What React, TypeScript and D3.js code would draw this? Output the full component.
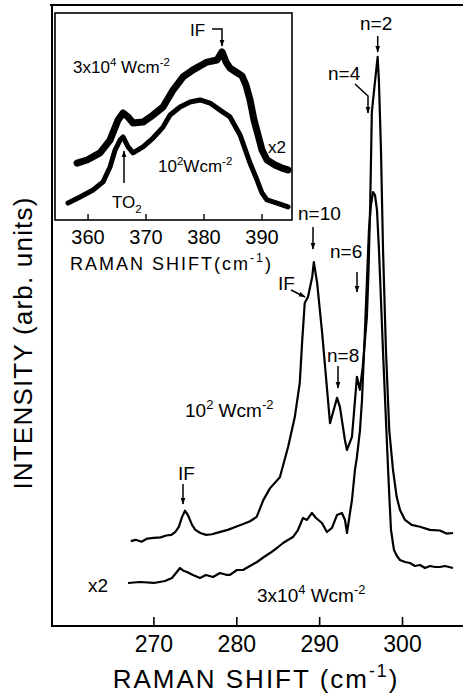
import React from "react";
import * as d3 from "d3";

// ---------- main panel data (Raman shift cm^-1, intensity arb. units) ----------
const lowPowerX = [
  267.2, 267.8, 268.5, 269.2, 270.0, 270.8, 271.5, 272.1, 272.6, 273.0, 273.4, 273.75,
  274.1, 274.6, 275.0, 275.6, 276.3, 277.0, 277.8, 278.9, 279.9, 280.7, 281.6, 282.4,
  283.2, 284.0, 285.2, 286.2, 287.0, 287.6, 287.9, 288.2, 288.6, 289.1, 289.3, 289.7,
  290.3, 290.9, 291.25, 291.6, 292.1, 292.45, 293.05, 293.3, 293.9, 294.5, 294.85, 295.2,
  295.7, 295.9, 296.1, 296.3, 296.7, 297.0, 297.15, 297.4, 297.65, 298.0, 298.4, 298.85,
  299.3, 299.7, 300.3, 301.1, 302.1, 303.3, 304.5, 305.3, 306.1,
];
const lowPowerY = [
  13.7, 13.9, 13.6, 14.1, 14.2, 14.3, 14.6, 14.7, 15.2, 16.0, 17.6, 18.6,
  17.9, 16.3, 15.5, 15.0, 14.7, 14.8, 15.1, 15.5, 16.0, 16.4, 16.9, 17.6,
  20.3, 22.2, 24.0, 28.9, 33.7, 39.2, 46.1, 52.1, 53.1, 56.3, 58.7, 55.3,
  47.3, 38.1, 32.7, 34.4, 36.8, 35.3, 30.0, 28.4, 30.5, 40.2, 38.1, 41.8,
  49.8, 57.4, 68.0, 82.9, 88.1, 91.8, 88.0, 76.8, 60.7, 44.5, 31.6, 25.2,
  20.8, 18.7, 17.1, 16.3, 16.0, 15.5, 15.4, 14.9, 15.0,
];
const highPowerX = [
  266.87, 268.32, 270.0, 271.34, 272.18, 273.15, 273.63, 273.99, 274.71, 275.56, 276.28,
  277.13, 277.97, 278.82, 279.18, 280.02, 280.75, 281.59, 282.44, 283.28, 284.01, 284.85,
  285.58, 286.18, 286.78, 287.38, 287.99, 288.47, 289.07, 289.56, 290.28, 290.88, 291.49,
  292.09, 292.69, 293.06, 293.3, 293.66, 293.9, 294.26, 294.5, 294.87, 295.11, 295.47,
  295.71, 295.95, 296.19, 296.44, 296.68, 296.92, 297.16, 297.4, 297.64, 298.0, 298.37,
  298.61, 298.97, 299.33, 299.69, 300.3, 300.9, 301.5, 302.11, 302.71, 303.31, 303.92,
  304.52, 305.12, 306.09,
];
const highPowerY = [
  6.94, 7.1, 6.94, 7.26, 7.74, 9.35, 8.87, 8.71, 8.23, 7.74, 8.23,
  7.9, 8.55, 8.23, 8.23, 9.03, 9.03, 9.68, 10.32, 11.13, 11.77, 12.58,
  13.39, 13.87, 14.35, 15.48, 17.42, 17.1, 18.23, 17.42, 16.61, 15.16, 15.81,
  17.9, 18.23, 17.1, 15.0, 18.23, 20.32, 25.16, 27.26, 31.61, 36.45, 47.74,
  55.81, 63.87, 67.9, 70.0, 69.5, 67.1, 60.65, 52.58, 44.52, 33.23, 21.94,
  15.48, 12.26, 11.29, 10.65, 10.32, 10.16, 9.68, 9.84, 9.35, 9.68, 9.52,
  9.52, 9.68, 9.35,
];
const mainTicks = [270, 280, 290, 300];

// ---------- inset data ----------
const insetHighX = [
  358.1, 359.83, 362.07, 363.79, 365.17, 366.03, 366.9, 367.76, 369.48, 371.21, 372.93,
  374.66, 376.38, 378.1, 380.52, 382.24, 383.1, 383.8, 384.48, 385.5, 386.55, 387.24,
  387.93, 388.62, 389.31, 390.0, 390.86, 392.24, 393.45, 394.48,
];
const insetHighY = [
  27.5, 29.0, 32.4, 38.6, 48.3, 51.7, 49.8, 46.9, 47.3, 50.7, 54.6,
  62.8, 69.1, 72.5, 76.3, 77.3, 81.2, 76.3, 73.4, 71.5, 69.6, 65.2,
  58.0, 48.3, 41.1, 33.8, 29.0, 26.6, 25.1, 24.2,
];
const insetLowX = [
  356.55, 358.62, 360.86, 362.59, 363.79, 364.66, 365.52, 366.03, 366.9, 367.76, 369.48,
  371.21, 372.93, 374.14, 375.86, 377.59, 379.31, 381.03, 382.76, 384.48, 386.21, 387.93,
  389.14, 390.0, 390.86, 392.59, 394.48,
];
const insetLowY = [
  8.2, 11.1, 14.5, 18.4, 25.6, 33.8, 38.6, 40.1, 35.3, 32.4, 35.3,
  39.6, 44.9, 50.7, 54.6, 57.0, 58.0, 56.5, 53.1, 49.8, 41.1, 27.5,
  19.3, 13.0, 9.7, 8.2, 6.3,
];
const insetTicks = [360, 370, 380, 390];

const FONT = "'Liberation Sans', Arial, sans-serif";

type Part = { t: string; sup?: boolean; sub?: boolean };

function zip(xs: number[], ys: number[]): [number, number][] {
  return xs.map((x, i) => [x, ys[i]]);
}

function rich(parts: Part[], fs: number) {
  let cur = 0;
  return parts.map((p, i) => {
    const target = p.sup ? -fs * 0.42 : p.sub ? fs * 0.28 : 0;
    const dy = target - cur;
    cur = target;
    return (
      <tspan key={i} dy={dy} fontSize={p.sup || p.sub ? fs * 0.68 : fs}>
        {p.t}
      </tspan>
    );
  });
}

export default function App() {
  const W = 463;
  const H = 696;
  const mx = d3.scaleLinear().domain([257.7, 307.3]).range([52, 463]);
  const my = d3.scaleLinear().domain([0, 100]).range([626, 6]);
  const ix = d3.scaleLinear().domain([354.3, 395.17]).range([55, 292]);
  const iy = d3.scaleLinear().domain([0, 100]).range([220, 13]);

  const mainLine = d3
    .line<[number, number]>()
    .x((d) => mx(d[0]))
    .y((d) => my(d[1]));
  const insetLine = d3
    .line<[number, number]>()
    .x((d) => ix(d[0]))
    .y((d) => iy(d[1]));

  return (
    <svg
      width={W}
      height={H}
      style={{ position: "absolute", left: 0, top: 0, background: "#fff" }}
      fontFamily={FONT}
    >
      <defs>
        <marker
          id="ah"
          viewBox="0 0 10 10"
          refX="9"
          refY="5"
          markerWidth="7"
          markerHeight="7"
          orient="auto"
          markerUnits="userSpaceOnUse"
        >
          <path d="M0,1.5 L10,5 L0,8.5 z" fill="#000" />
        </marker>
      </defs>
      <rect x={0} y={0} width={W} height={H} fill="#fff" />

      {/* main frame */}
      <line x1={52} y1={5} x2={52} y2={627} stroke="#000" strokeWidth={2} />
      <line x1={50} y1={5} x2={463} y2={5} stroke="#000" strokeWidth={2} />
      <line x1={51} y1={626} x2={463} y2={626} stroke="#000" strokeWidth={2} />
      {mainTicks.map((t) => (
        <g key={t}>
          <line x1={mx(t)} x2={mx(t)} y1={626} y2={617} stroke="#000" strokeWidth={1.6} />
          <text x={mx(t)} y={652} fontSize={23} textAnchor="middle">
            {t}
          </text>
        </g>
      ))}
      <text x={256} y={688} fontSize={26} textAnchor="middle" letterSpacing={2}>
        {rich([{ t: "RAMAN SHIFT (cm" }, { t: "-1", sup: true }, { t: ")" }], 26)}
      </text>
      <text
        transform="translate(32,343) rotate(-90)"
        fontSize={26}
        textAnchor="middle"
        letterSpacing={1.2}
      >
        INTENSITY (arb. units)
      </text>

      {/* main curves */}
      <path d={mainLine(zip(lowPowerX, lowPowerY)) || ""} fill="none" stroke="#000" strokeWidth={2.2} strokeLinejoin="round" />
      <path d={mainLine(zip(highPowerX, highPowerY)) || ""} fill="none" stroke="#000" strokeWidth={2.2} strokeLinejoin="round" />

      {/* main annotations */}
      <g fontSize={19}>
        <text x={360} y={30}>n=2</text>
        <line x1={377.7} y1={36} x2={377.7} y2={52} stroke="#000" strokeWidth={1.5} markerEnd="url(#ah)" />
        <text x={328} y={80}>n=4</text>
        <path d="M355,84 L368,96 L368,113" fill="none" stroke="#000" strokeWidth={1.5} markerEnd="url(#ah)" />
        <text x={298} y={220}>n=10</text>
        <line x1={313} y1={227} x2={313} y2={249} stroke="#000" strokeWidth={1.5} markerEnd="url(#ah)" />
        <text x={278} y={290}>IF</text>
        <line x1={291} y1={290} x2={305} y2={297} stroke="#000" strokeWidth={1.5} markerEnd="url(#ah)" />
        <text x={330} y={258}>n=6</text>
        <line x1={357} y1={272} x2={357} y2={292} stroke="#000" strokeWidth={1.5} markerEnd="url(#ah)" />
        <text x={327} y={362}>n=8</text>
        <line x1={338} y1={366} x2={338} y2={388} stroke="#000" strokeWidth={1.5} markerEnd="url(#ah)" />
        <text x={185} y={417}>
          {rich([{ t: "10" }, { t: "2", sup: true }, { t: " Wcm" }, { t: "-2", sup: true }], 19)}
        </text>
        <text x={178} y={480}>IF</text>
        <line x1={183} y1={484} x2={183} y2={504} stroke="#000" strokeWidth={1.5} markerEnd="url(#ah)" />
        <text x={88} y={592}>x2</text>
        <text x={257} y={602}>
          {rich([{ t: "3x10" }, { t: "4", sup: true }, { t: " Wcm" }, { t: "-2", sup: true }], 19)}
        </text>
      </g>

      {/* inset */}
      <rect x={55} y={13} width={237} height={207} fill="#fff" stroke="#000" strokeWidth={1.6} />
      {insetTicks.map((t) => (
        <g key={t}>
          <line x1={ix(t)} x2={ix(t)} y1={220} y2={214} stroke="#000" strokeWidth={1.4} />
          <text x={ix(t)} y={244} fontSize={20} textAnchor="middle">
            {t}
          </text>
        </g>
      ))}
      <text x={70} y={270} fontSize={18} letterSpacing={2}>
        {rich([{ t: "RAMAN SHIFT(cm" }, { t: "-1", sup: true }, { t: ")" }], 18)}
      </text>
      <path d={insetLine(zip(insetHighX, insetHighY)) || ""} fill="none" stroke="#000" strokeWidth={7} strokeLinejoin="round" strokeLinecap="round" />
      <path d={insetLine(zip(insetLowX, insetLowY)) || ""} fill="none" stroke="#000" strokeWidth={5} strokeLinejoin="round" strokeLinecap="round" />
      <g fontSize={17}>
        <text x={73} y={73}>
          {rich([{ t: "3x10" }, { t: "4", sup: true }, { t: " Wcm" }, { t: "-2", sup: true }], 17)}
        </text>
        <text x={190} y={36}>IF</text>
        <path d="M212,29 L222,29 L222,46" fill="none" stroke="#000" strokeWidth={1.5} markerEnd="url(#ah)" />
        <text x={158} y={172}>
          {rich([{ t: "10" }, { t: "2", sup: true }, { t: "Wcm" }, { t: "-2", sup: true }], 17)}
        </text>
        <text x={112} y={208}>
          {rich([{ t: "TO" }, { t: "2", sub: true }], 17)}
        </text>
        <line x1={124} y1={183} x2={124} y2={151} stroke="#000" strokeWidth={1.5} markerEnd="url(#ah)" />
        <text x={268} y={153}>x2</text>
      </g>
    </svg>
  );
}
